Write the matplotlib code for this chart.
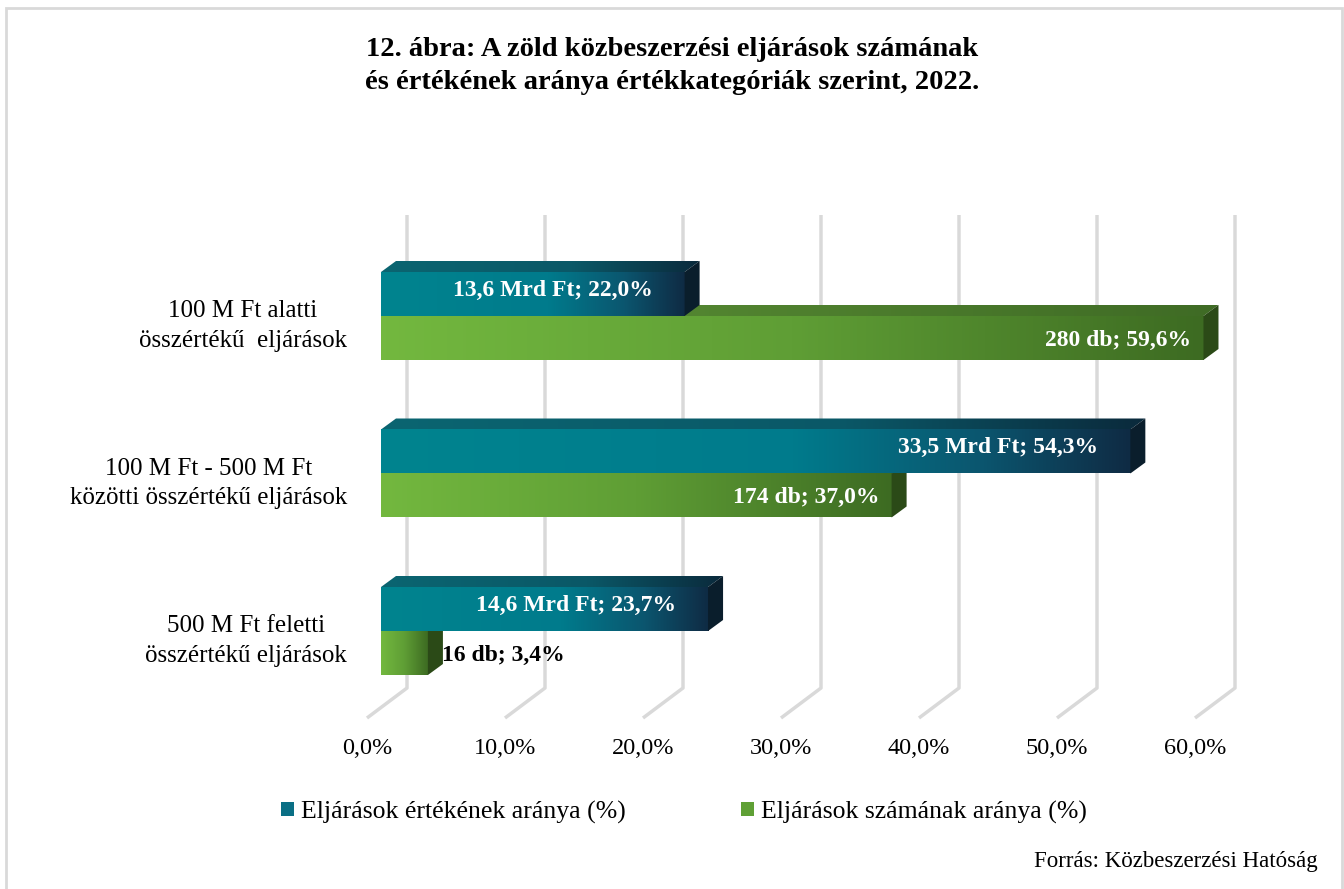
import numpy as np
import matplotlib
matplotlib.use("Agg")
import matplotlib.pyplot as plt
from matplotlib.colors import LinearSegmentedColormap
from matplotlib.patches import Polygon, Patch, Rectangle

plt.rcParams['font.family'] = ['Liberation Serif', 'DejaVu Serif']

CATEGORIES = ['100 M Ft alatti\nösszértékű  eljárások',
              '100 M Ft - 500 M Ft\nközötti összértékű eljárások',
              '500 M Ft feletti\nösszértékű eljárások']
VALUE_SHARE = [22.0, 54.3, 23.7]          # Eljárások értékének aránya (%)
VALUE_MRD = ['13,6', '33,5', '14,6']
COUNT_SHARE = [59.6, 37.0, 3.4]           # Eljárások számának aránya (%)
COUNT_DB = [280, 174, 16]
XTICKS = [0, 10, 20, 30, 40, 50, 60]
SERIES = ['Eljárások értékének aránya (%)', 'Eljárások számának aránya (%)']

W, H = 1344, 889
PX_PER_PCT = 13.8
X0_PX = 381
Y_TOP_PX, Y_BOT_PX = 200, 760
GROUP_PX = 157.5
FIRST_PX = 316
XMAX = 64


def dx(px):
    return px / PX_PER_PCT


def dy(px):
    return px / GROUP_PX


def ypx(px):
    return (px - FIRST_PX) / GROUP_PX


teal_front = LinearSegmentedColormap.from_list('tf', [(0, '#00848F'), (0.55, '#007B8C'), (0.8, '#0B566F'), (1, '#0F2B44')])
teal_top = LinearSegmentedColormap.from_list('tt', [(0, '#0B6571'), (0.6, '#0A5867'), (1, '#0B2A3C')])
green_front = LinearSegmentedColormap.from_list('gf', [(0, '#73B83F'), (0.5, '#5F9E35'), (1, '#3D6B22')])
green_top = LinearSegmentedColormap.from_list('gt', [(0, '#5E9437'), (1, '#3F6B25')])
TEAL_SIDE = '#0A1E2C'
GREEN_SIDE = '#2B4A17'
GRID = '#D9D9D9'

fig = plt.figure(figsize=(W / 100, H / 100), dpi=100)
ax = fig.add_axes([X0_PX / W, 1 - Y_BOT_PX / H, XMAX * PX_PER_PCT / W, (Y_BOT_PX - Y_TOP_PX) / H])
ax.axis('off')

# frame around the chart
fig.add_artist(Rectangle((6 / W, -0.01), (1342 - 6) / W, 1 - 8 / H + 0.01, transform=fig.transFigure,
                         fill=False, edgecolor=GRID, linewidth=2))

# gridlines with a floor slant
for t in XTICKS:
    xb = t + dx(26)
    xf = t - dx(14)
    ax.plot([xb, xb, xf], [ypx(215), ypx(688), ypx(718)], color=GRID, lw=2.5, zorder=1,
            solid_capstyle='butt', clip_on=False)
    ax.text(xf, ypx(748), f'{t:.1f}%'.replace('.', ','), ha='center', va='center', fontsize=17.5)

BAR_H = dy(44)
DX, DY = dx(15), -dy(11)
grad = np.linspace(0, 1, 256).reshape(1, -1)


def bar3d(v, y0, y1, cmap_f, cmap_t, side, z):
    ax.imshow(grad, cmap=cmap_f, extent=(0, v, y1, y0), aspect='auto', zorder=z, interpolation='bilinear')
    top = Polygon([(0, y0), (v, y0), (v + DX, y0 + DY), (DX, y0 + DY)], closed=True, facecolor='none',
                  edgecolor='none', zorder=z)
    ax.add_patch(top)
    it = ax.imshow(grad, cmap=cmap_t, extent=(0, v + DX, y0, y0 + DY), aspect='auto', zorder=z,
                   interpolation='bilinear')
    it.set_clip_path(top)
    ax.add_patch(Polygon([(v, y0), (v, y1), (v + DX, y1 + DY), (v + DX, y0 + DY)], closed=True,
                         facecolor=side, edgecolor='none', zorder=z))


for i in range(len(CATEGORIES)):
    # green (count share) below, teal (value share) above
    bar3d(COUNT_SHARE[i], i, i + BAR_H, green_front, green_top, GREEN_SIDE, 2 + i * 2)
    bar3d(VALUE_SHARE[i], i - BAR_H, i, teal_front, teal_top, TEAL_SIDE, 3 + i * 2)

    ax.text(VALUE_SHARE[i] - dx(32), i - BAR_H / 2 - dy(4), f'{VALUE_MRD[i]} Mrd Ft; {VALUE_SHARE[i]:.1f}%'.replace('.', ','),
            ha='right', va='center', color='white', fontsize=17, fontweight='bold', zorder=10)
    lbl = f'{COUNT_DB[i]} db; {COUNT_SHARE[i]:.1f}%'.replace('.', ',')
    if COUNT_SHARE[i] > 10:
        ax.text(COUNT_SHARE[i] - dx(12), i + BAR_H / 2 + dy(2), lbl, ha='right', va='center', color='white',
                fontsize=17, fontweight='bold', zorder=10)
    else:
        ax.text(COUNT_SHARE[i] + DX - dx(1), i + BAR_H / 2 + dy(2), lbl, ha='left', va='center', color='black',
                fontsize=17, fontweight='bold', zorder=10)

    ax.text(dx(347 - X0_PX), i + dy(10), CATEGORIES[i], ha='right', va='center', multialignment='center',
            fontsize=18, linespacing=1.42, clip_on=False)

ax.set_xlim(0, XMAX)
ax.set_ylim(ypx(Y_BOT_PX), ypx(Y_TOP_PX))

fig.text(0.5, 1 - 66 / H, '12. ábra: A zöld közbeszerzési eljárások számának\nés értékének aránya értékkategóriák szerint, 2022.',
         ha='center', va='center', fontsize=20.5, fontweight='bold', linespacing=1.38)

handles = [Patch(facecolor='#0A6F85', edgecolor='none'), Patch(facecolor='#5FA035', edgecolor='none')]
fig.legend(handles, SERIES, loc='center', bbox_to_anchor=(684 / W, 1 - 812 / H), ncol=2, frameon=False,
           fontsize=18.5, handlelength=0.5, handleheight=0.5, handletextpad=0.27, columnspacing=4.5)

fig.text(1318 / W, 1 - 862 / H, 'Forrás: Közbeszerzési Hatóság', ha='right', va='center', fontsize=16.5)

fig.savefig('out.png', dpi=100)
